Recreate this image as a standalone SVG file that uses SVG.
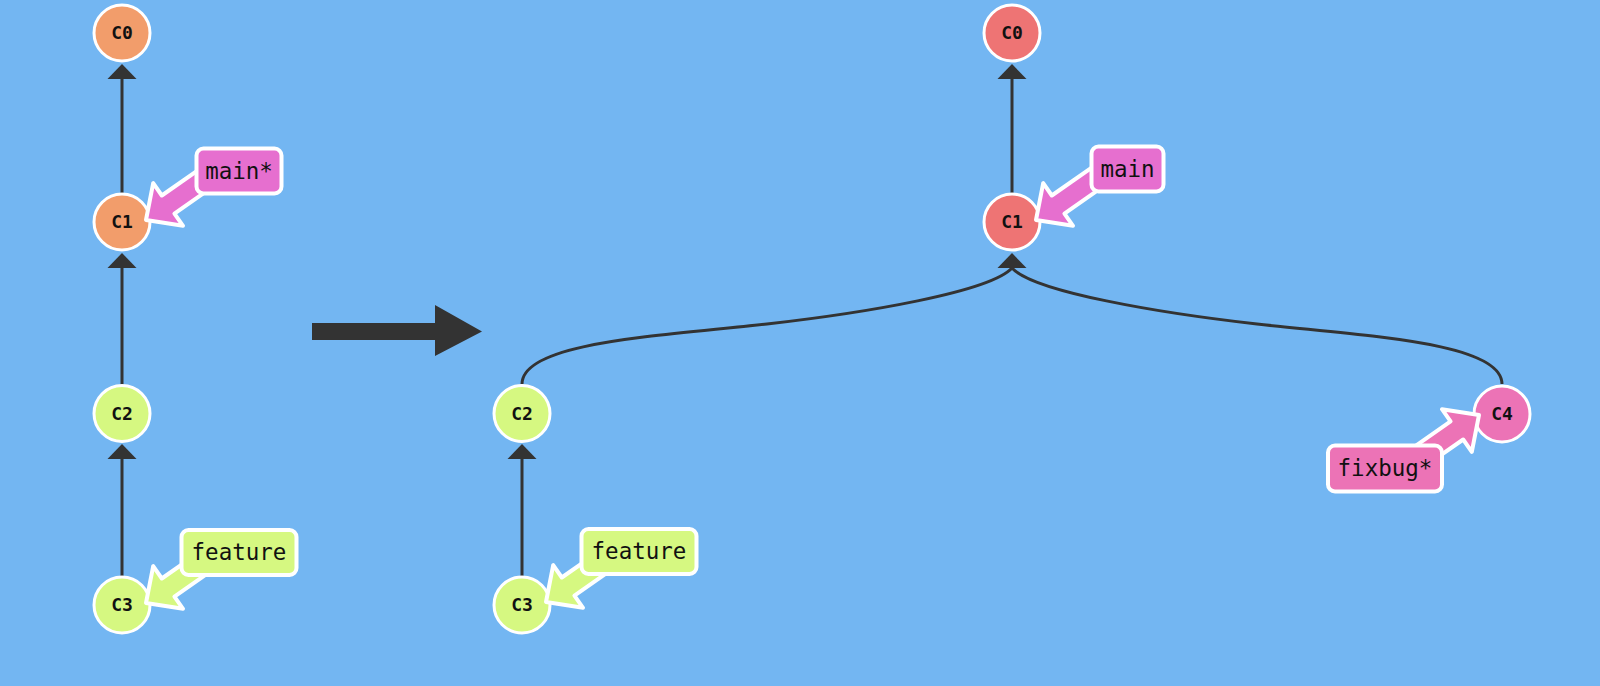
<svg xmlns="http://www.w3.org/2000/svg" xmlns:xlink="http://www.w3.org/1999/xlink" width="1600" height="686" viewBox="0 0 1600 686">
  <style>
    .edge { fill: none; stroke: #333333; stroke-width: 3; }
    .head { fill: #333333; }
    .node circle { stroke: #ffffff; stroke-width: 3; }
    .node text { font-family: "DejaVu Sans Mono", "Liberation Mono", monospace; font-size: 18px; font-weight: bold; fill: #111111; text-anchor: middle; }
    .tag use, .tag rect { stroke: #ffffff; stroke-width: 4; stroke-linejoin: round; }
    .tag text { font-family: "DejaVu Sans Mono", "Liberation Mono", monospace; font-size: 22.5px; fill: #111111; text-anchor: middle; }
    .orange { fill: #f29d6b; }
    .red { fill: #ee7474; }
    .green { fill: #d6f881; }
    .pink { fill: #ec73b6; }
    .magenta { fill: #e66fcf; }
  </style>
  <defs>
    <path id="tagArrow" d="M0 0 L-27 -26 L-27 -11 L-88 -11 L-88 11 L-27 11 L-27 26 Z"/>
    <path id="tri" d="M0 0 L14.5 15 L-14.5 15 Z"/>
  </defs>
  <rect x="0" y="0" width="1600" height="686" fill="#73b6f2"/>

  <g id="connectors">
    <line class="edge" x1="122" y1="75" x2="122" y2="200"/>
    <use href="#tri" class="head" x="122" y="64"/>
    <line class="edge" x1="122" y1="265" x2="122" y2="390"/>
    <use href="#tri" class="head" x="122" y="253"/>
    <line class="edge" x1="122" y1="455" x2="122" y2="580"/>
    <use href="#tri" class="head" x="122" y="444"/>

    <line class="edge" x1="1012" y1="75" x2="1012" y2="200"/>
    <use href="#tri" class="head" x="1012" y="64"/>
    <path class="edge" d="M522 384 C522 342 660 336 767 324 C864 313 990 292 1012 268"/>
    <path class="edge" d="M1502 384 C1502 342 1364 336 1257 324 C1160 313 1034 292 1012 268"/>
    <use href="#tri" class="head" x="1012" y="253"/>
    <line class="edge" x1="522" y1="455" x2="522" y2="580"/>
    <use href="#tri" class="head" x="522" y="444"/>

    <path d="M312 323 L435 323 L435 305 L482 331.5 L435 356 L435 340 L312 340 Z" fill="#333333"/>
  </g>

  <g id="left-C0" class="node"><circle class="orange" cx="122" cy="33" r="28"/><text x="122" y="39">C0</text></g>
  <g id="left-C1" class="node"><circle class="orange" cx="122" cy="222" r="28"/><text x="122" y="228">C1</text></g>
  <g id="left-C2" class="node"><circle class="green" cx="122" cy="413.5" r="28"/><text x="122" y="419.5">C2</text></g>
  <g id="left-C3" class="node"><circle class="green" cx="122" cy="605" r="28"/><text x="122" y="611">C3</text></g>

  <g id="right-C0" class="node"><circle class="red" cx="1012" cy="33" r="28"/><text x="1012" y="39">C0</text></g>
  <g id="right-C1" class="node"><circle class="red" cx="1012" cy="222" r="28"/><text x="1012" y="228">C1</text></g>
  <g id="right-C2" class="node"><circle class="green" cx="522" cy="413.5" r="28"/><text x="522" y="419.5">C2</text></g>
  <g id="right-C3" class="node"><circle class="green" cx="522" cy="605" r="28"/><text x="522" y="611">C3</text></g>
  <g id="right-C4" class="node"><circle class="pink" cx="1502" cy="414" r="28"/><text x="1502" y="420">C4</text></g>

  <g id="tag-left-main" class="tag">
    <use href="#tagArrow" class="magenta" transform="translate(146 220) rotate(145)"/>
    <rect class="magenta" x="196.5" y="148.5" width="85" height="45" rx="7"/>
    <text x="239" y="178.5">main*</text>
  </g>
  <g id="tag-left-feature" class="tag">
    <use href="#tagArrow" class="green" transform="translate(146 603) rotate(145)"/>
    <rect class="green" x="181.5" y="530" width="115" height="45" rx="7"/>
    <text x="239" y="560">feature</text>
  </g>
  <g id="tag-right-main" class="tag">
    <use href="#tagArrow" class="magenta" transform="translate(1036 220) rotate(145)"/>
    <rect class="magenta" x="1091.5" y="146.5" width="72" height="45" rx="7"/>
    <text x="1127.5" y="176.5">main</text>
  </g>
  <g id="tag-right-feature" class="tag">
    <use href="#tagArrow" class="green" transform="translate(546 602) rotate(145)"/>
    <rect class="green" x="581.5" y="529" width="115" height="45" rx="7"/>
    <text x="639" y="559">feature</text>
  </g>
  <g id="tag-right-fixbug" class="tag">
    <use href="#tagArrow" class="pink" transform="translate(1479 415) rotate(-35)"/>
    <rect class="pink" x="1328" y="445.5" width="114" height="46" rx="7"/>
    <text x="1385" y="476">fixbug*</text>
  </g>
</svg>
